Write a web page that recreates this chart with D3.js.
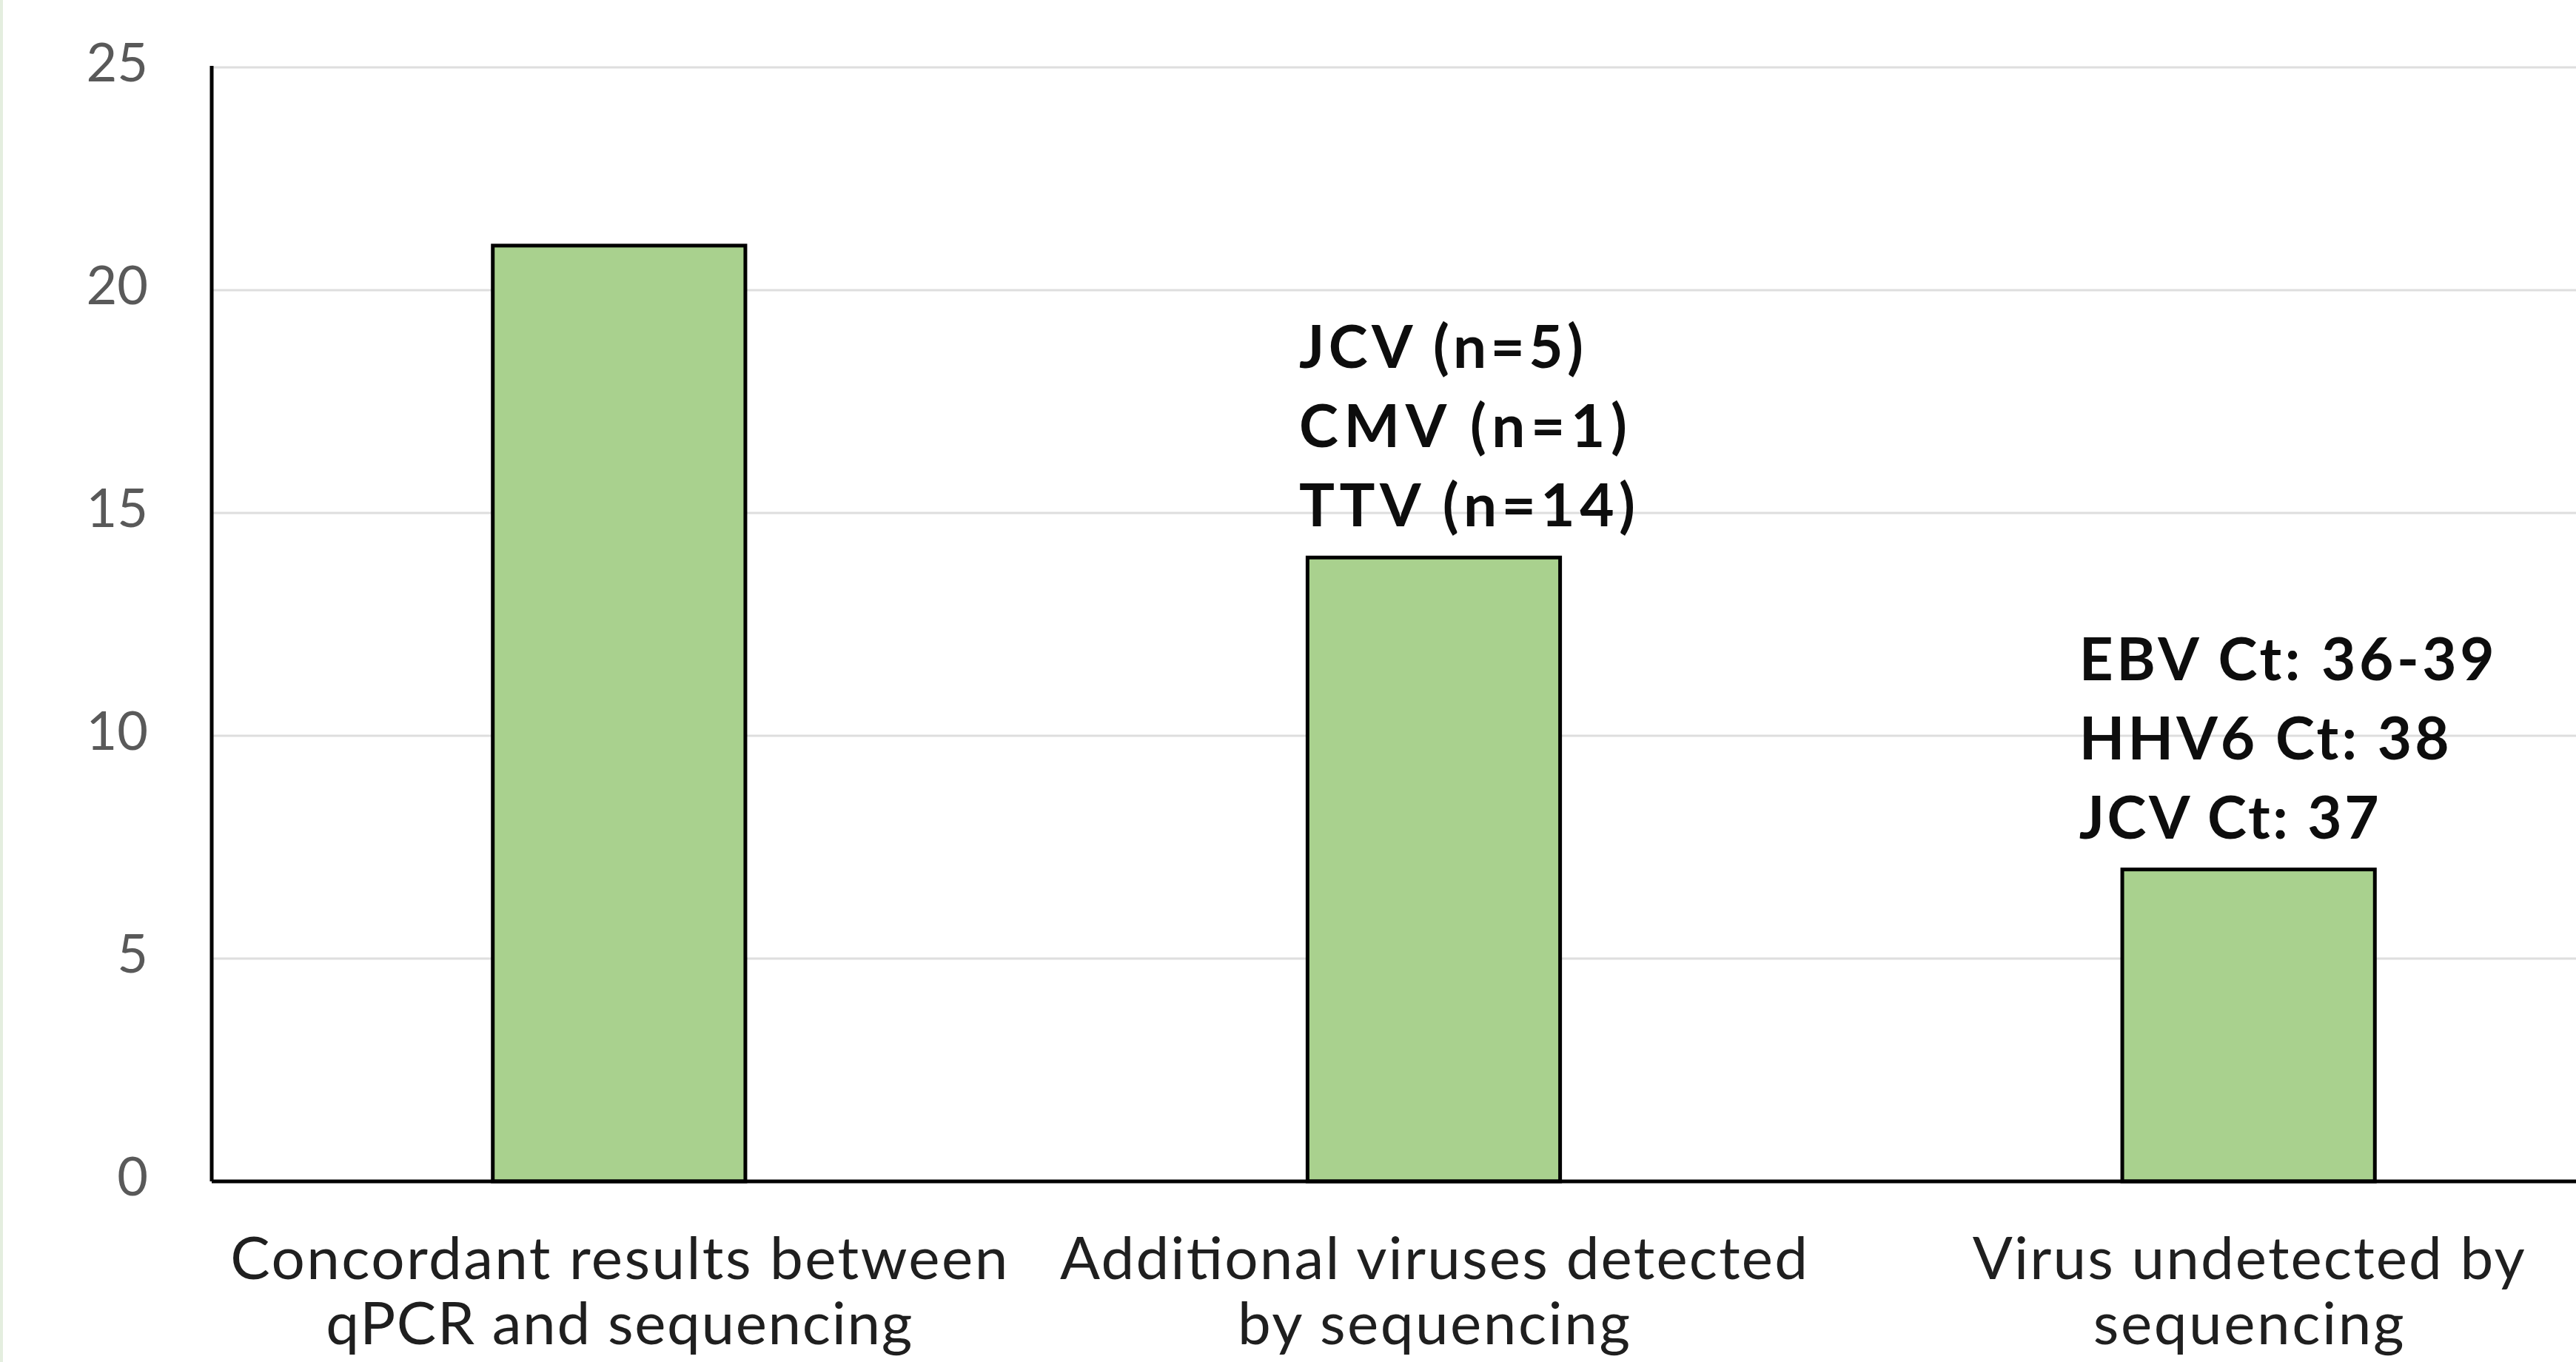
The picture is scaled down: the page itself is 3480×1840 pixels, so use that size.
<!DOCTYPE html>
<html>
<head>
<meta charset="utf-8">
<script src="https://cdn.jsdelivr.net/npm/d3@7"></script>
<style>
  html, body { margin: 0; padding: 0; background: #ffffff; }
  svg { display: block; }
</style>
</head>
<body>
<svg id="chart" width="3480" height="1840"></svg>
<script>
// ---- data ----
const categories = [
  ["Concordant results between", "qPCR and sequencing"],
  ["Additional viruses detected", "by sequencing"],
  ["Virus undetected by", "sequencing"]
];
const values = [21, 14, 7];
const yTicks = [0, 5, 10, 15, 20, 25];
const annotations = [
  [],
  ["JCV (n=5)", "CMV (n=1)", "TTV (n=14)"],
  ["EBV Ct: 36-39", "HHV6 Ct: 38", "JCV Ct: 37"]
];

// ---- layout ----
const W = 3480, H = 1840;
const plot = { left: 286, right: 3588, top: 91, bottom: 1596 };
const catLabelWidths = [[1050, 792], [1010, 530], [746, 420]];
const annWidths = [[], [384, 443, 454], [561, 500, 405]];
const annDx = [0, -182, -229];

const svg = d3.select("#chart");
const keys = categories.map((c, i) => i);

const x = d3.scaleBand().domain(keys).range([plot.left, plot.right])
  .paddingInner(0.69).paddingOuter(0.69 / 2);
const y = d3.scaleLinear().domain([0, 25]).range([plot.bottom, plot.top]);

// left edge strip (crop artifact)
svg.append("rect").attr("x", 0).attr("y", 0).attr("width", 4).attr("height", H).attr("fill", "#e4eedf");

// gridlines
svg.append("g").selectAll("line").data(yTicks.filter(t => t > 0)).join("line")
  .attr("x1", plot.left).attr("x2", W)
  .attr("y1", d => y(d)).attr("y2", d => y(d))
  .attr("stroke", "#dedede").attr("stroke-width", 3);

// bars
svg.append("g").selectAll("rect").data(values).join("rect")
  .attr("x", (d, i) => x(i))
  .attr("y", d => y(d))
  .attr("width", x.bandwidth())
  .attr("height", d => y(0) - y(d))
  .attr("fill", "#a9d18e")
  .attr("stroke", "#000000")
  .attr("stroke-width", 5);

// y axis
const yAxis = d3.axisLeft(y).tickValues(yTicks).tickSize(0).tickPadding(86);
const gy = svg.append("g").attr("transform", `translate(${plot.left},0)`).call(yAxis);
gy.select(".domain").attr("stroke", "#000").attr("stroke-width", 5).attr("d", `M0,${plot.top - 2}V${plot.bottom}`);
gy.selectAll(".tick text")
  .attr("font-family", "Lato, 'Open Sans', sans-serif")
  .attr("font-size", 72)
  .attr("fill", "#595959")
  .attr("dy", "0.26em");

// x axis
const xAxis = d3.axisBottom(x).tickSize(0).tickFormat("");
const gx = svg.append("g").attr("transform", `translate(0,${plot.bottom})`).call(xAxis);
gx.select(".domain").attr("stroke", "#000").attr("stroke-width", 5).attr("d", `M${plot.left},0H${W}`);

// category labels
const catG = svg.append("g").attr("font-family", "Lato, 'Open Sans', sans-serif")
  .attr("font-size", 80).attr("fill", "#1f1f1f").attr("text-anchor", "middle");
categories.forEach((lines, i) => {
  lines.forEach((t, j) => {
    catG.append("text")
      .attr("x", x(i) + x.bandwidth() / 2)
      .attr("y", plot.bottom + 132 + j * 88)
      .attr("textLength", catLabelWidths[i][j])
      .attr("lengthAdjust", "spacing")
      .text(t);
  });
});

// annotations
const annG = svg.append("g").attr("font-family", "Lato, 'Open Sans', sans-serif")
  .attr("font-size", 80).attr("font-weight", "bold").attr("fill", "#0d0d0d");
annotations.forEach((lines, i) => {
  const n = lines.length;
  lines.forEach((t, j) => {
    annG.append("text")
      .attr("x", x(i) + x.bandwidth() / 2 + annDx[i])
      .attr("y", y(values[i]) - 42 - (n - 1 - j) * 107)
      .attr("textLength", annWidths[i][j])
      .attr("lengthAdjust", "spacing")
      .text(t);
  });
});
</script>
</body>
</html>
